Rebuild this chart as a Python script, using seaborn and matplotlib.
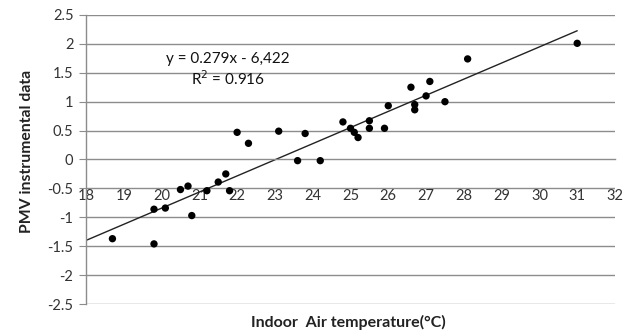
import numpy as np
import pandas as pd
import seaborn as sns
import matplotlib.pyplot as plt

# air temperature (°C) vs PMV
temp = [18.7, 19.8, 19.8, 20.1, 20.5, 20.7, 20.8, 21.2, 21.5, 21.7, 21.8,
        22.0, 22.3, 23.1, 23.6, 23.8, 24.2, 24.8, 25.0, 25.1, 25.2, 25.5,
        25.5, 25.9, 26.0, 26.6, 26.7, 26.7, 27.0, 27.1, 27.5, 28.1, 31.0]
pmv = [-1.37, -1.46, -0.86, -0.84, -0.52, -0.46, -0.97, -0.54, -0.39, -0.25, -0.54,
       0.47, 0.28, 0.49, -0.02, 0.45, -0.02, 0.65, 0.54, 0.47, 0.38, 0.67,
       0.54, 0.54, 0.93, 1.25, 0.95, 0.86, 1.10, 1.35, 1.00, 1.74, 2.01]
slope, intercept = 0.279, -6.422
fit_x = [18, 31]

df = pd.DataFrame({'temp': temp, 'pmv': pmv})

sns.set_style('white')
plt.rcParams['font.family'] = ['Lato', 'DejaVu Sans']

fig = plt.figure(figsize=(6.35, 3.36), dpi=100)
ax = fig.add_axes([0.1354, 0.0952, 0.8331, 0.8602])

grey = '#8c8c8c'
for yv in np.arange(-2.5, 2.51, 0.5):
    if abs(yv) > 1e-9:
        ax.axhline(yv, color=grey, lw=1.0, zorder=0)

fit_y = [slope * v + intercept for v in fit_x]
ax.plot(fit_x, fit_y, color='#222222', lw=1.0, zorder=2)
sns.scatterplot(data=df, x='temp', y='pmv', ax=ax, color='black', s=28,
                edgecolor='none', zorder=3)

ax.set_xlim(18, 32)
ax.set_ylim(-2.5, 2.5)
ax.set_xticks(range(18, 33))
ax.set_yticks(np.arange(-2.5, 2.51, 0.5))
ax.set_yticklabels(['-2.5', '-2', '-1.5', '-1', '-0.5', '0', '0.5', '1', '1.5', '2', '2.5'])

ax.spines['top'].set_visible(False)
ax.spines['right'].set_visible(False)
ax.spines['bottom'].set_position(('data', 0))
for s in ['left', 'bottom']:
    ax.spines[s].set_color(grey)
    ax.spines[s].set_linewidth(1.0)

ax.tick_params(axis='x', direction='in', length=4, color=grey, pad=21,
               labelsize=10.5, labelcolor='#333333')
ax.tick_params(axis='y', direction='out', length=5, color=grey, pad=4,
               labelsize=10.5, labelcolor='#333333', left=True)

ax.set_xlabel('')
ax.set_ylabel('')
fig.text(0.043, 0.55, 'PMV instrumental data', rotation=90, ha='center',
         va='center', fontsize=11.3, fontweight='bold', color='#222222')
fig.text(0.548, 0.04, 'Indoor  Air temperature(°C)', ha='center', va='center',
         fontsize=11.5, fontweight='bold', color='#222222')

ax.text(21.76, 1.74, 'y = 0.279x - 6,422', ha='center', va='center',
        fontsize=11, color='#111111')
ax.text(21.76, 1.39, 'R$^2$ = 0.916', ha='center', va='center',
        fontsize=11, color='#111111')

fig.savefig('out.png', dpi=100)
